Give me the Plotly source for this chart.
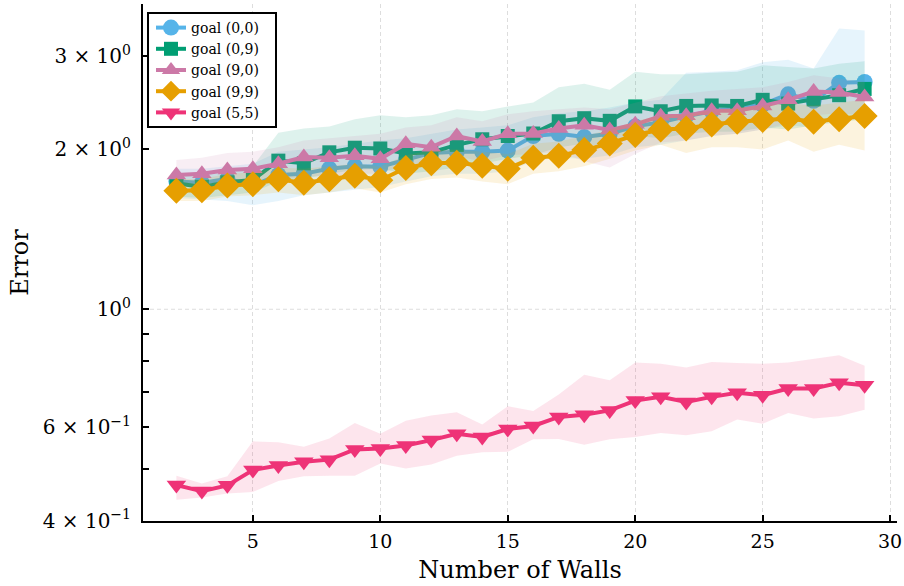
import plotly.graph_objects as go
import math

walls = list(range(2, 30))

series_names = ["goal (0,0)", "goal (0,9)", "goal (9,0)", "goal (9,9)", "goal (5,5)"]

blue_mean = [1.74, 1.73, 1.76, 1.71, 1.79, 1.80, 1.84, 1.86, 1.855, 1.91, 1.97, 1.98, 1.98, 1.99, 2.12, 2.14, 2.11, 2.14, 2.21, 2.25, 2.31, 2.36, 2.39, 2.43, 2.54, 2.47, 2.67, 2.68]
blue_hi = [1.84, 1.84, 1.86, 1.88, 1.98, 2.00, 2.02, 2.05, 2.08, 2.10, 2.14, 2.18, 2.20, 2.22, 2.30, 2.34, 2.36, 2.40, 2.45, 2.48, 2.79, 2.80, 2.82, 2.92, 2.95, 2.84, 3.38, 3.35]
blue_lo = [1.62, 1.61, 1.60, 1.57, 1.60, 1.64, 1.66, 1.68, 1.70, 1.74, 1.78, 1.80, 1.80, 1.82, 1.90, 1.93, 1.92, 1.95, 2.02, 2.04, 2.08, 2.12, 2.14, 2.18, 2.22, 2.20, 2.30, 2.32]

green_mean = [1.727, 1.70, 1.734, 1.752, 1.905, 1.883, 1.975, 2.015, 2.008, 1.966, 1.975, 2.04, 2.09, 2.12, 2.143, 2.26, 2.29, 2.264, 2.41, 2.36, 2.415, 2.42, 2.415, 2.48, 2.44, 2.485, 2.53, 2.60]
green_hi = [1.80, 1.80, 1.82, 1.86, 2.15, 2.19, 2.21, 2.28, 2.32, 2.30, 2.32, 2.38, 2.36, 2.41, 2.45, 2.62, 2.66, 2.59, 2.80, 2.77, 2.77, 2.79, 2.80, 2.88, 2.86, 2.84, 2.90, 2.93]
green_lo = [1.63, 1.62, 1.64, 1.66, 1.74, 1.76, 1.80, 1.83, 1.84, 1.80, 1.82, 1.85, 1.88, 1.92, 1.95, 2.02, 2.05, 2.02, 2.12, 2.10, 2.14, 2.16, 2.16, 2.20, 2.18, 2.22, 2.25, 2.28]

purple_mean = [1.79, 1.80, 1.83, 1.84, 1.88, 1.935, 1.93, 1.945, 1.92, 2.05, 2.02, 2.12, 2.07, 2.14, 2.143, 2.19, 2.22, 2.175, 2.23, 2.31, 2.315, 2.365, 2.365, 2.415, 2.48, 2.57, 2.56, 2.51]
purple_hi = [1.91, 1.93, 1.97, 1.98, 2.02, 2.08, 2.10, 2.12, 2.14, 2.20, 2.22, 2.30, 2.26, 2.33, 2.36, 2.38, 2.40, 2.38, 2.45, 2.52, 2.55, 2.58, 2.60, 2.62, 2.68, 2.76, 2.72, 2.68]
purple_lo = [1.70, 1.70, 1.71, 1.72, 1.74, 1.78, 1.78, 1.80, 1.80, 1.88, 1.88, 1.94, 1.90, 1.95, 1.96, 1.98, 1.90, 1.85, 1.96, 2.06, 2.08, 2.12, 2.14, 2.18, 2.24, 2.32, 2.34, 2.32]

orange_mean = [1.672, 1.675, 1.71, 1.72, 1.757, 1.73, 1.757, 1.785, 1.75, 1.845, 1.883, 1.888, 1.864, 1.84, 1.93, 1.945, 1.994, 2.053, 2.128, 2.18, 2.19, 2.229, 2.254, 2.271, 2.287, 2.254, 2.28, 2.311]
orange_hi = [1.76, 1.76, 1.80, 1.81, 1.85, 1.84, 1.86, 1.88, 1.86, 1.95, 1.99, 2.00, 1.98, 1.96, 2.05, 2.07, 2.12, 2.18, 2.26, 2.32, 2.33, 2.37, 2.40, 2.42, 2.44, 2.42, 2.45, 2.48]
orange_lo = [1.60, 1.60, 1.63, 1.64, 1.66, 1.64, 1.66, 1.69, 1.66, 1.72, 1.76, 1.77, 1.74, 1.72, 1.80, 1.82, 1.86, 1.92, 1.99, 2.04, 1.97, 2.02, 2.02, 2.00, 2.08, 1.98, 2.04, 1.99]

pink_mean = [0.4665, 0.4545, 0.466, 0.498, 0.508, 0.516, 0.521, 0.5445, 0.547, 0.554, 0.567, 0.583, 0.575, 0.595, 0.603, 0.627, 0.633, 0.645, 0.673, 0.684, 0.669, 0.684, 0.696, 0.689, 0.709, 0.709, 0.727, 0.719]
pink_hi = [0.486, 0.47, 0.485, 0.564, 0.562, 0.551, 0.571, 0.611, 0.583, 0.617, 0.631, 0.64, 0.607, 0.657, 0.643, 0.691, 0.753, 0.735, 0.794, 0.79, 0.777, 0.796, 0.792, 0.79, 0.794, 0.807, 0.819, 0.783]
pink_lo = [0.438, 0.442, 0.45, 0.453, 0.475, 0.485, 0.486, 0.486, 0.5125, 0.5015, 0.51, 0.53, 0.538, 0.539, 0.569, 0.57, 0.556, 0.569, 0.575, 0.585, 0.579, 0.589, 0.62, 0.609, 0.638, 0.623, 0.629, 0.647]

y_tickvals = [0.4, 0.5, 0.6, 0.7, 0.8, 0.9, 1, 2, 3]
y_ticktext = ["4 × 10<sup>−1</sup>", "", "6 × 10<sup>−1</sup>", "", "", "", "10<sup>0</sup>",
              "2 × 10<sup>0</sup>", "3 × 10<sup>0</sup>"]
x_tickvals = [5, 10, 15, 20, 25, 30]

colors = ["#56B4E9", "#009E73", "#CC79A7", "#E69F00", "#EE3377"]
symbols = ["circle", "square", "triangle-up", "diamond", "triangle-down"]
msizes = [16, 14, 17, 20, 17]
means = [blue_mean, green_mean, purple_mean, orange_mean, pink_mean]
his = [blue_hi, green_hi, purple_hi, orange_hi, pink_hi]
los = [blue_lo, green_lo, purple_lo, orange_lo, pink_lo]
band_alpha = [0.15, 0.13, 0.13, 0.13, 0.13]


def rgba(hexc, a):
    h = hexc.lstrip("#")
    return "rgba(%d,%d,%d,%.3f)" % (int(h[0:2], 16), int(h[2:4], 16), int(h[4:6], 16), a)


FONT = "DejaVu Serif"
fig = go.Figure()

for i in range(5):
    fig.add_trace(go.Scatter(x=walls, y=his[i], mode="lines", line=dict(width=0),
                             showlegend=False, hoverinfo="skip"))
    fig.add_trace(go.Scatter(x=walls, y=los[i], mode="lines", line=dict(width=0),
                             fill="tonexty", fillcolor=rgba(colors[i], band_alpha[i]),
                             showlegend=False, hoverinfo="skip"))
    fig.add_trace(go.Scatter(x=walls, y=means[i], mode="lines+markers", name=series_names[i],
                             line=dict(color=colors[i], width=4),
                             marker=dict(symbol=symbols[i], size=msizes[i], color=colors[i],
                                         line=dict(width=0))))

# plot area in pixels (904x586 canvas)
L, R, T, B = 143, 7, 4, 65
W, H = 904 - L - R, 586 - T - B
x_range = [0.69, 30.27]
y_range = [math.log10(0.4) - 0.0008, math.log10(0.4) - 0.0008 + H / 531.0]
one_frac = (math.log10(1.0) - y_range[0]) / (y_range[1] - y_range[0])

fig.add_shape(type="line", xref="x domain", yref="y domain", x0=0, x1=1, y0=one_frac, y1=one_frac,
              line=dict(color="#dddddd", width=1, dash="4px,3px"), layer="below")


def px_to_paper_x(p):
    return (p - L) / W


def px_to_paper_y(p):
    return (586 - B - p) / H


# legend frame (pixel box 148..276 x 13..127)
fig.add_shape(type="rect", xref="paper", yref="paper",
              x0=px_to_paper_x(148), x1=px_to_paper_x(276),
              y0=px_to_paper_y(127), y1=px_to_paper_y(13),
              line=dict(color="black", width=2), fillcolor="white", layer="above")

fig.update_layout(
    width=904, height=586,
    margin=dict(l=L, r=R, t=T, b=B),
    paper_bgcolor="white", plot_bgcolor="white",
    font=dict(family=FONT, color="black"),
    legend=dict(x=px_to_paper_x(151), y=px_to_paper_y(12), xanchor="left", yanchor="top",
                borderwidth=0, bgcolor="rgba(0,0,0,0)", traceorder="normal",
                font=dict(family=FONT, size=14), itemwidth=30,
                tracegroupgap=0),
    xaxis=dict(range=x_range, tickvals=x_tickvals, ticks="inside", ticklen=6, tickwidth=1.5,
               tickcolor="black", showline=True, linecolor="black", linewidth=2,
               showgrid=True, gridcolor="#dddddd", griddash="4px,3px", gridwidth=1,
               zeroline=False, tickfont=dict(family=FONT, size=19), automargin=False,
               ticklabelstandoff=2,
               title=dict(text="Number of Walls", font=dict(family=FONT, size=24), standoff=10)),
    yaxis=dict(type="log", range=y_range, tickvals=y_tickvals, ticktext=y_ticktext,
               ticks="inside", ticklen=6, tickwidth=1.5, tickcolor="black",
               showline=True, linecolor="black", linewidth=2, showgrid=False,
               zeroline=False, tickfont=dict(family=FONT, size=20), automargin=False,
               ticklabelstandoff=6,
               title=dict(text="Error", font=dict(family=FONT, size=24), standoff=7)),
)

fig.write_html("out.html", config={"displayModeBar": False},
               post_script="document.body.style.margin='0';")
